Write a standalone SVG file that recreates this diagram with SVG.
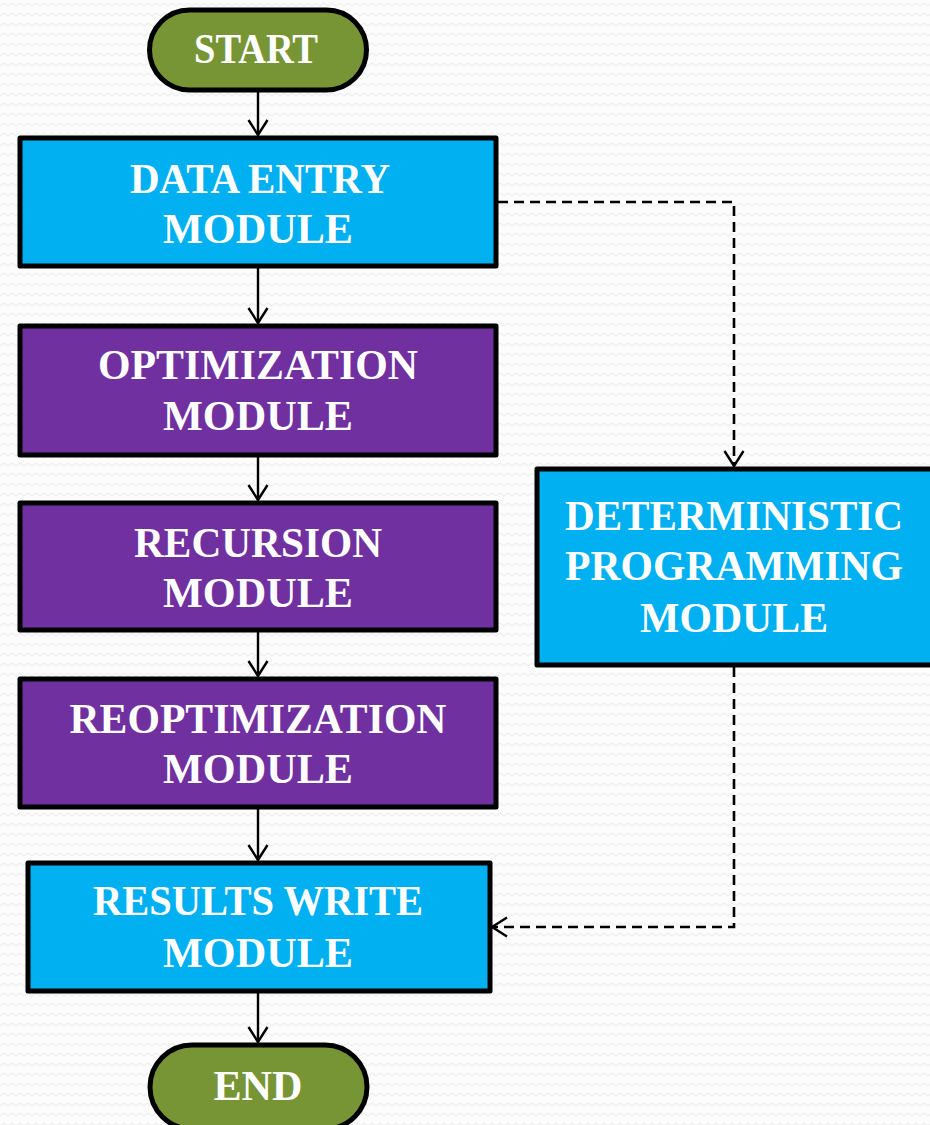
<svg xmlns="http://www.w3.org/2000/svg" width="930" height="1125" viewBox="0 0 930 1125">
  <defs>
    <pattern id="zigzag" width="8" height="10" patternUnits="userSpaceOnUse">
      <rect width="8" height="10" fill="#fcfcfc"/>
      <polyline points="0,6 4,3 8,6" fill="none" stroke="#efefef" stroke-width="1.2"/>
    </pattern>
    <marker id="open-arrow" viewBox="0 0 18 22" refX="16.5" refY="11" markerWidth="18" markerHeight="22" markerUnits="userSpaceOnUse" orient="auto">
      <polyline points="1.5,1.5 16.5,11 1.5,20.5" fill="none" stroke="#000" stroke-width="2.4"/>
    </marker>
    <style>
      .box { stroke: #000; stroke-width: 5; stroke-linejoin: round; }
      .blue { fill: #00b0f0; }
      .purple { fill: #7030a0; }
      .green { fill: #789535; }
      .label { font-family: "Liberation Serif", "Times New Roman", serif; font-weight: bold; font-size: 43px; fill: #ffffff; text-anchor: middle; }
      .flow { fill: none; stroke: #000; stroke-width: 2.4; marker-end: url(#open-arrow); }
      .dash { stroke-width: 2.6; stroke-dasharray: 10 6; }
    </style>
  </defs>

  <rect width="930" height="1125" fill="url(#zigzag)"/>

  <!-- connectors -->
  <g id="connectors">
    <line class="flow" x1="258" y1="92" x2="258" y2="135"/>
    <line class="flow" x1="258" y1="268" x2="258" y2="323"/>
    <line class="flow" x1="258" y1="457" x2="258" y2="500"/>
    <line class="flow" x1="258" y1="632" x2="258" y2="676"/>
    <line class="flow" x1="258" y1="809" x2="258" y2="860"/>
    <line class="flow" x1="258" y1="993" x2="258" y2="1042"/>
    <polyline class="flow dash" points="498,202 734,202 734,466"/>
    <polyline class="flow dash" points="734,667 734,927 492,927"/>
  </g>

  <!-- terminals and modules -->
  <g id="start">
    <rect class="box green" x="149.5" y="10" width="217" height="80" rx="40"/>
    <text class="label" x="256" y="63" textLength="124" lengthAdjust="spacingAndGlyphs">START</text>
  </g>

  <g id="data-entry">
    <rect class="box blue" x="20" y="138" width="476" height="128"/>
    <text class="label" x="260" y="193" textLength="260" lengthAdjust="spacingAndGlyphs">DATA ENTRY</text>
    <text class="label" x="258" y="243" textLength="190" lengthAdjust="spacingAndGlyphs">MODULE</text>
  </g>

  <g id="optimization">
    <rect class="box purple" x="20" y="326" width="476" height="129"/>
    <text class="label" x="258" y="379" textLength="320" lengthAdjust="spacingAndGlyphs">OPTIMIZATION</text>
    <text class="label" x="258" y="430" textLength="190" lengthAdjust="spacingAndGlyphs">MODULE</text>
  </g>

  <g id="recursion">
    <rect class="box purple" x="20" y="503" width="476" height="127"/>
    <text class="label" x="258" y="557" textLength="248" lengthAdjust="spacingAndGlyphs">RECURSION</text>
    <text class="label" x="258" y="607" textLength="190" lengthAdjust="spacingAndGlyphs">MODULE</text>
  </g>

  <g id="reoptimization">
    <rect class="box purple" x="20" y="679" width="476" height="128"/>
    <text class="label" x="258" y="733" textLength="377" lengthAdjust="spacingAndGlyphs">REOPTIMIZATION</text>
    <text class="label" x="258" y="783" textLength="190" lengthAdjust="spacingAndGlyphs">MODULE</text>
  </g>

  <g id="results-write">
    <rect class="box blue" x="28" y="863" width="462" height="128"/>
    <text class="label" x="258" y="915" textLength="330" lengthAdjust="spacingAndGlyphs">RESULTS WRITE</text>
    <text class="label" x="258" y="967" textLength="190" lengthAdjust="spacingAndGlyphs">MODULE</text>
  </g>

  <g id="deterministic">
    <rect class="box blue" x="537" y="469" width="400" height="196"/>
    <text class="label" x="734" y="530" textLength="338" lengthAdjust="spacingAndGlyphs">DETERMINISTIC</text>
    <text class="label" x="734" y="580" textLength="338" lengthAdjust="spacingAndGlyphs">PROGRAMMING</text>
    <text class="label" x="734" y="632" textLength="188" lengthAdjust="spacingAndGlyphs">MODULE</text>
  </g>

  <g id="end">
    <rect class="box green" x="150" y="1045" width="217" height="84" rx="42"/>
    <text class="label" x="258" y="1100" textLength="89" lengthAdjust="spacingAndGlyphs">END</text>
  </g>
</svg>
